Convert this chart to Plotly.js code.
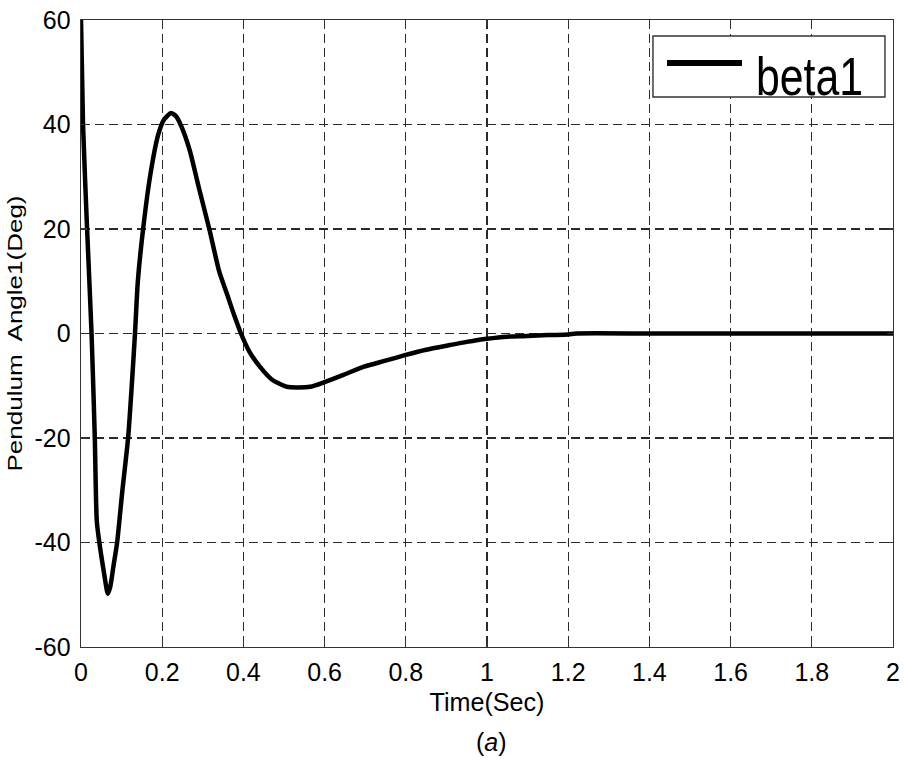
<!DOCTYPE html>
<html>
<head>
<meta charset="utf-8">
<script src="https://cdn.plot.ly/plotly-3.0.1.min.js"></script>
<style>
  html, body { margin: 0; padding: 0; background: #fff; }
  #chart { width: 904px; height: 760px; }
</style>
</head>
<body>
<div id="chart"></div>
<script>
// Pendulum angle response beta1 (degrees) over time (seconds)
const timeSec = [0, 0.005, 0.015, 0.026, 0.034, 0.039, 0.047, 0.058, 0.066, 0.072, 0.08, 0.089,
  0.102, 0.116, 0.125, 0.133, 0.14, 0.153, 0.17, 0.19, 0.205, 0.222, 0.235, 0.248, 0.268,
  0.29, 0.316, 0.34, 0.359, 0.375, 0.394, 0.415, 0.441, 0.47, 0.507, 0.564, 0.6, 0.65,
  0.695, 0.75, 0.8, 0.85, 0.909, 0.95, 1.0, 1.05, 1.1, 1.15, 1.2, 1.22, 1.4, 1.6, 1.8, 2.0];
const beta1 = [60, 40, 20, 0, -20, -36, -41, -46.5, -49.8, -48.5, -44.5, -40,
  -30, -20, -10, 0, 10, 20, 30, 38, 41, 42.2, 41.5, 39.5, 35,
  28, 20, 12, 7.7, 4, 0, -3.5, -6.4, -8.8, -10.2, -10.2, -9.3, -7.8,
  -6.4, -5.2, -4.1, -3.1, -2.2, -1.6, -1.0, -0.6, -0.5, -0.3, -0.2, 0, 0, 0, 0, 0];
const seriesName = 'beta1';

const xTicks = [0, 0.2, 0.4, 0.6, 0.8, 1, 1.2, 1.4, 1.6, 1.8, 2];
const xTickText = ['0', '0.2', '0.4', '0.6', '0.8', '1', '1.2', '1.4', '1.6', '1.8', '2'];
const yTicks = [-60, -40, -20, 0, 20, 40, 60];
const yTickText = ['-60', '-40', '-20', '0', '20', '40', '60'];

const xTitle = 'Time(Sec)';
const yTitle = 'Pendulum&nbsp; Angle1(Deg)';
const panelLabel = '(<i>a</i>)';

const baseFont = 'Liberation Sans, Arial, Helvetica, sans-serif';

const axisCommon = {
  showline: true,
  linecolor: '#333',
  linewidth: 1.4,
  mirror: 'ticks',
  ticks: 'inside',
  ticklen: 6,
  tickwidth: 1.2,
  tickcolor: '#333',
  showgrid: true,
  gridcolor: '#2a2a2a',
  gridwidth: 1.3,
  griddash: '9px,5px',
  zeroline: false,
  tickfont: { family: baseFont, size: 25, color: '#000' },
  fixedrange: true
};

const trace = {
  x: timeSec,
  y: beta1,
  type: 'scatter',
  mode: 'lines',
  name: seriesName,
  line: { color: '#000', width: 4.5, shape: 'spline', smoothing: 0.6 },
  showlegend: false,
  hoverinfo: 'skip'
};

const layout = {
  width: 904,
  height: 760,
  margin: { l: 81, r: 11, t: 20, b: 113 },
  paper_bgcolor: '#fff',
  plot_bgcolor: '#fff',
  showlegend: false,
  xaxis: Object.assign({}, axisCommon, {
    range: [0, 2],
    tickmode: 'array',
    tickvals: xTicks,
    ticktext: xTickText,
    ticklabelstandoff: 3,
    title: { text: xTitle, font: { family: baseFont, size: 25, color: '#000' }, standoff: 8 }
  }),
  yaxis: Object.assign({}, axisCommon, {
    range: [-60, 60],
    tickmode: 'array',
    tickvals: yTicks,
    ticktext: yTickText,
    ticklabelstandoff: 4,
    title: { text: yTitle, font: { family: baseFont, size: 20, color: '#000' }, standoff: 6 }
  }),
  shapes: [
    // legend box
    { type: 'rect', xref: 'paper', yref: 'paper', x0: 0.7044, x1: 0.9901, y0: 0.8772, y1: 0.9745,
      line: { color: '#333', width: 1.4 }, fillcolor: '#fff', layer: 'above' },
    // legend line sample
    { type: 'line', xref: 'paper', yref: 'paper', x0: 0.7217, x1: 0.8140, y0: 0.9314, y1: 0.9314,
      line: { color: '#000', width: 6 }, layer: 'above' }
  ],
  annotations: [
    { xref: 'paper', yref: 'paper', x: 0.8115, y: 0.911, xanchor: 'left', yanchor: 'middle',
      text: seriesName, showarrow: false,
      font: { family: baseFont, size: 54, color: '#000' } },
    { xref: 'paper', yref: 'paper', x: 0.505, y: -0.152, xanchor: 'center', yanchor: 'middle',
      text: panelLabel, showarrow: false,
      font: { family: baseFont, size: 25, color: '#000' } }
  ]
};

// squeeze or stretch a text element to a fixed rendered length
function fitText(el, len) {
  if (!el) return;
  el.setAttribute('textLength', len);
  el.setAttribute('lengthAdjust', 'spacingAndGlyphs');
}

Plotly.newPlot('chart', [trace], layout, { displayModeBar: false, staticPlot: true }).then(function (gd) {
  const annTexts = gd.querySelectorAll('.annotation-text');
  fitText(annTexts[0], 107);
  fitText(gd.querySelector('.ytitle'), 276);
  fitText(gd.querySelector('.xtitle'), 115);
});
</script>
</body>
</html>
